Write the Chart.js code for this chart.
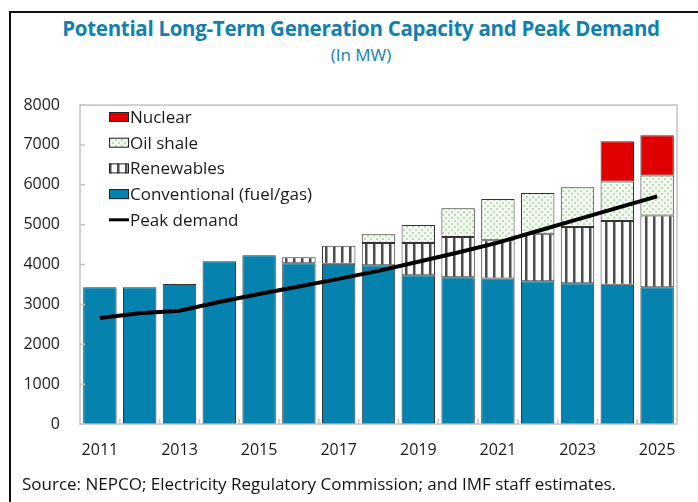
<!DOCTYPE html>
<html>
<head>
<meta charset="utf-8">
<script src="https://cdn.jsdelivr.net/npm/chart.js@4.4.1/dist/chart.umd.min.js"></script>
<style>
  html, body { margin: 0; padding: 0; background: #fff; }
  body { width: 698px; height: 502px; position: relative; overflow: hidden; font-family: "Open Sans", sans-serif; }
  .frame { position: absolute; left: 9px; top: 11px; width: 800px; height: 600px; border-left: 2px solid #111; border-top: 2px solid #111; }
  .title { position: absolute; left: 0; width: 722px; top: 14px; text-align: center; font-size: 20.5px; font-weight: bold; color: #127fb0; letter-spacing: -0.3px; }
  .subtitle { position: absolute; left: 0; width: 722px; top: 43px; text-align: center; font-size: 17px; color: #127fb0; }
  .source { position: absolute; left: 22px; top: 472px; font-size: 17px; color: #111; }
  canvas { position: absolute; left: 0; top: 0; }
</style>
</head>
<body>
<div class="frame"></div>
<div class="title">Potential Long-Term Generation Capacity and Peak Demand</div>
<div class="subtitle">(In MW)</div>
<canvas id="capacityChart" width="698" height="502"></canvas>
<div class="source">Source: NEPCO; Electricity Regulatory Commission; and IMF staff estimates.</div>
<script>
const years = ['2011', '2012', '2013', '2014', '2015', '2016', '2017', '2018',
               '2019', '2020', '2021', '2022', '2023', '2024', '2025'];
const conventional = [3430, 3430, 3510, 4080, 4230, 4030, 4020, 3980, 3730, 3680, 3650, 3580, 3530, 3490, 3430];
const renewables = [null, null, null, null, null, 150, 450, 560, 810, 1010, 960, 1190, 1410, 1600, 1800];
const oilShale = [null, null, null, null, null, null, null, 220, 450, 720, 1030, 1020, 1000, 990, 1000];
const nuclear = [null, null, null, null, null, null, null, null, null, null, null, null, null, 1010, 1010];
const peakDemand = [2660, 2780, 2840, 3060, 3260, 3450, 3640, 3840, 4070, 4300, 4550, 4840, 5130, 5420, 5710];
const yTicks = [0, 1000, 2000, 3000, 4000, 5000, 6000, 7000, 8000];

// fill patterns for renewables and oil shale
function stripePattern() {
    const c = document.createElement('canvas');
    c.width = 8; c.height = 8;
    const g = c.getContext('2d');
    g.fillStyle = '#ffffff';
    g.fillRect(0, 0, 8, 8);
    g.fillStyle = '#4d4d4d';
    g.fillRect(5, 0, 2.5, 8);
    return g.createPattern(c, 'repeat');
}

function dotPattern() {
    const c = document.createElement('canvas');
    c.width = 6; c.height = 6;
    const g = c.getContext('2d');
    g.fillStyle = '#f3f9f1';
    g.fillRect(0, 0, 6, 6);
    g.fillStyle = '#bcdcb4';
    g.fillRect(1, 1, 2, 2);
    g.fillRect(4, 4, 2, 2);
    return g.createPattern(c, 'repeat');
}

const stripes = stripePattern();
const dots = dotPattern();

// plot frame and inward tick marks
const framePlugin = {
    id: 'frame',
    afterDraw(chart) {
        const { ctx, chartArea: a, scales } = chart;
        ctx.save();
        ctx.strokeStyle = '#c4c4c4';
        ctx.lineWidth = 1.5;
        ctx.strokeRect(a.left, a.top, a.right - a.left, a.bottom - a.top);
        ctx.beginPath();
        yTicks.forEach(v => {
            const y = scales.y.getPixelForValue(v);
            ctx.moveTo(a.left, y);
            ctx.lineTo(a.left + 5, y);
        });
        const step = (a.right - a.left) / years.length;
        for (let i = 1; i < years.length; i++) {
            const x = a.left + step * i;
            ctx.moveTo(x, a.bottom);
            ctx.lineTo(x, a.bottom - 5);
        }
        ctx.stroke();
        ctx.restore();
    }
};

// legend drawn inside the plot, upper left
const legendPlugin = {
    id: 'insideLegend',
    afterDraw(chart) {
        const { ctx } = chart;
        const items = [
            { text: 'Nuclear', fill: '#e00000' },
            { text: 'Oil shale', fill: dots },
            { text: 'Renewables', fill: stripes },
            { text: 'Conventional (fuel/gas)', fill: '#0583ae' },
            { text: 'Peak demand', line: true }
        ];
        ctx.save();
        ctx.font = '17px "Open Sans"';
        ctx.textBaseline = 'middle';
        items.forEach((it, i) => {
            const y = 117 + i * 25.7;
            if (it.line) {
                ctx.fillStyle = '#000';
                ctx.fillRect(109, y - 1.5, 20, 3);
            } else {
                ctx.fillStyle = it.fill;
                ctx.fillRect(109, y - 5, 20, 10);
                ctx.strokeStyle = '#222';
                ctx.lineWidth = 1;
                ctx.strokeRect(109.5, y - 4.5, 19, 9);
            }
            ctx.fillStyle = '#1a1a1a';
            ctx.fillText(it.text, 130, y + 1);
        });
        ctx.restore();
    }
};

const barStyle = {
    type: 'bar',
    borderColor: '#333333',
    borderWidth: 1,
    borderSkipped: false,
    barPercentage: 0.84,
    categoryPercentage: 1,
    stack: 'cap',
    order: 1
};

new Chart(document.getElementById('capacityChart'), {
    data: {
        labels: years,
        datasets: [
            { ...barStyle, label: 'Conventional (fuel/gas)', data: conventional, backgroundColor: '#0583ae' },
            { ...barStyle, label: 'Renewables', data: renewables, backgroundColor: stripes },
            { ...barStyle, label: 'Oil shale', data: oilShale, backgroundColor: dots },
            { ...barStyle, label: 'Nuclear', data: nuclear, backgroundColor: '#e00000' },
            {
                type: 'line',
                label: 'Peak demand',
                data: peakDemand,
                borderColor: '#000000',
                borderWidth: 4,
                pointRadius: 0,
                tension: 0,
                order: 0
            }
        ]
    },
    options: {
        responsive: false,
        animation: false,
        layout: { padding: { left: 0, top: 105, right: 21, bottom: 0 } },
        plugins: {
            legend: { display: false },
            tooltip: { enabled: false }
        },
        scales: {
            x: {
                stacked: true,
                grid: { display: false, drawTicks: false },
                border: { display: false },
                ticks: {
                    autoSkip: false,
                    maxRotation: 0,
                    padding: 17,
                    color: '#1a1a1a',
                    font: { family: 'Open Sans', size: 16 },
                    callback: function (value, index) {
                        return index % 2 === 0 ? this.getLabelForValue(value) : '';
                    }
                },
                afterFit: scale => { scale.height = 78; }
            },
            y: {
                stacked: true,
                min: 0,
                max: 8000,
                grid: { display: false, drawTicks: false },
                border: { display: false },
                ticks: {
                    stepSize: 1000,
                    padding: 20,
                    color: '#1a1a1a',
                    font: { family: 'Open Sans', size: 16 },
                    callback: value => String(value)
                },
                afterFit: scale => { scale.width = 80; }
            }
        }
    },
    plugins: [framePlugin, legendPlugin]
});
</script>
</body>
</html>
